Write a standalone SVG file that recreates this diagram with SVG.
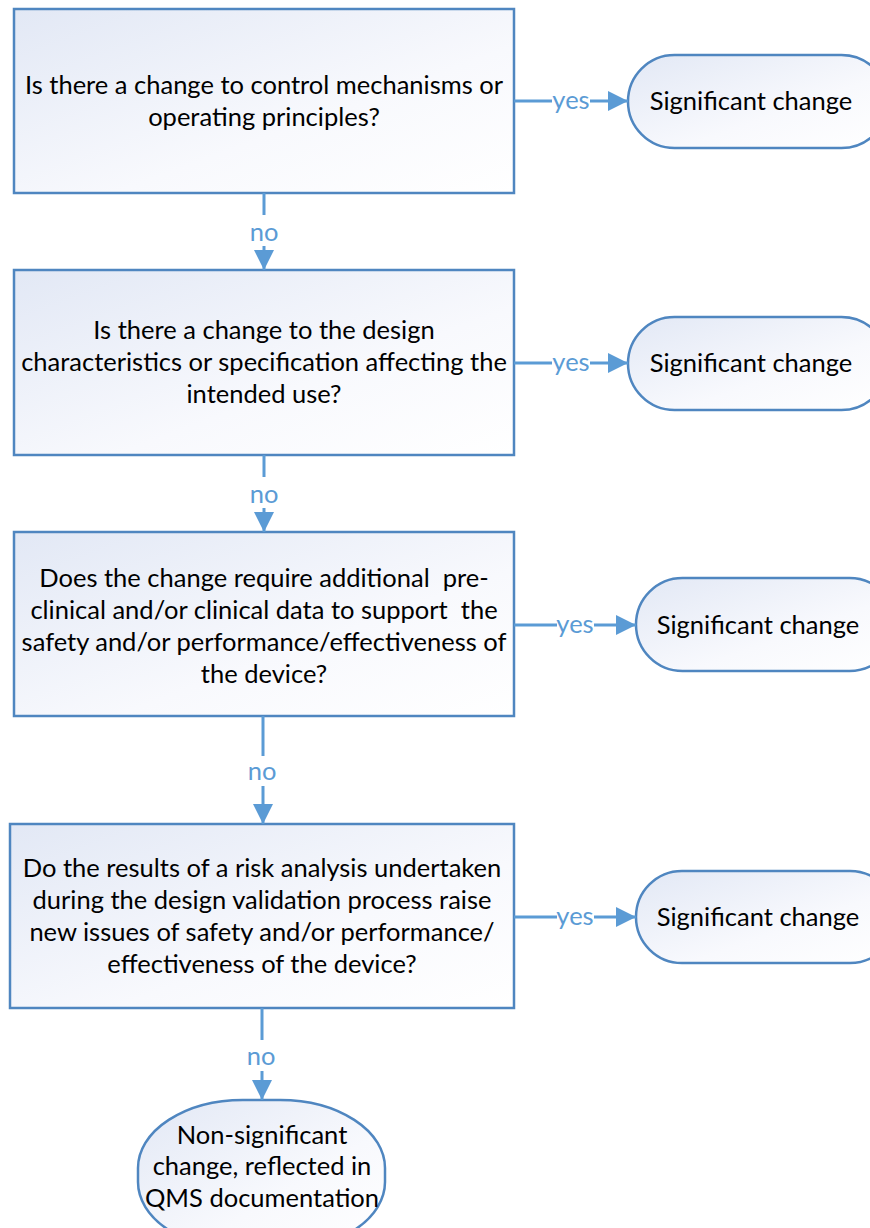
<svg xmlns="http://www.w3.org/2000/svg" width="870" height="1228" viewBox="0 0 870 1228">
  <defs>
    <linearGradient id="fillGrad" x1="0" y1="0" x2="1" y2="1">
      <stop offset="0" stop-color="#e2e8f5"/>
      <stop offset="0.6" stop-color="#f8f9fd"/>
      <stop offset="1" stop-color="#ffffff"/>
    </linearGradient>
    <marker id="arrow" viewBox="0 0 20 20" refX="20" refY="10" markerWidth="20" markerHeight="20" markerUnits="userSpaceOnUse" orient="auto">
      <path d="M0,0 L20,10 L0,20 Z" fill="#5b9bd5"/>
    </marker>
    <style>
      .box { fill: url(#fillGrad); stroke: #4f86c0; stroke-width: 2.5; }
      .txt { font-family: Lato, "Liberation Sans", sans-serif; font-size: 25.5px; fill: #000; text-anchor: middle; white-space: pre; }
      .lbl { font-family: Lato, "Liberation Sans", sans-serif; font-size: 25.5px; fill: #5b9bd5; text-anchor: middle; }
      .conn { stroke: #5b9bd5; stroke-width: 3; fill: none; }
    </style>
  </defs>
  <rect width="870" height="1228" fill="#ffffff"/>

  <!-- decision 1 -->
  <g id="q1">
    <rect class="box" x="14" y="9" width="500" height="184"/>
    <text class="txt" x="264" y="94">Is there a change to control mechanisms or</text>
    <text class="txt" x="264" y="126">operating principles?</text>
  </g>
  <g id="sig1">
    <rect class="box" x="628" y="55" width="260" height="93" rx="46.5" ry="46.5"/>
    <text class="txt" x="751" y="110">Significant change</text>
  </g>

  <!-- decision 2 -->
  <g id="q2">
    <rect class="box" x="14" y="270" width="500" height="185"/>
    <text class="txt" x="264" y="339">Is there a change to the design</text>
    <text class="txt" x="264" y="371">characteristics or specification affecting the</text>
    <text class="txt" x="264" y="403">intended use?</text>
  </g>
  <g id="sig2">
    <rect class="box" x="628" y="317" width="260" height="93" rx="46.5" ry="46.5"/>
    <text class="txt" x="751" y="372">Significant change</text>
  </g>

  <!-- decision 3 -->
  <g id="q3">
    <rect class="box" x="14" y="532" width="500" height="184"/>
    <text class="txt" x="264" y="587">Does the change require additional  pre-</text>
    <text class="txt" x="264" y="619">clinical and/or clinical data to support  the</text>
    <text class="txt" x="264" y="651">safety and/or performance/effectiveness of</text>
    <text class="txt" x="264" y="683">the device?</text>
  </g>
  <g id="sig3">
    <rect class="box" x="636" y="578" width="260" height="93" rx="46.5" ry="46.5"/>
    <text class="txt" x="758" y="634">Significant change</text>
  </g>

  <!-- decision 4 -->
  <g id="q4">
    <rect class="box" x="10" y="824" width="504" height="184"/>
    <text class="txt" x="262" y="877">Do the results of a risk analysis undertaken</text>
    <text class="txt" x="262" y="909">during the design validation process raise</text>
    <text class="txt" x="262" y="941">new issues of safety and/or performance/</text>
    <text class="txt" x="262" y="973">effectiveness of the device?</text>
  </g>
  <g id="sig4">
    <rect class="box" x="636" y="871" width="260" height="92" rx="46" ry="46"/>
    <text class="txt" x="758" y="926">Significant change</text>
  </g>

  <!-- final outcome -->
  <g id="nonsig">
    <rect class="box" x="138" y="1100" width="247" height="150" rx="105" ry="68"/>
    <text class="txt" x="262" y="1144">Non-significant</text>
    <text class="txt" x="262" y="1175">change, reflected in</text>
    <text class="txt" x="262" y="1207">QMS documentation</text>
  </g>

  <!-- connectors -->
  <g id="connectors">
    <!-- yes branches -->
    <line class="conn" x1="514" y1="101" x2="552" y2="101"/>
    <line class="conn" x1="590" y1="101" x2="628" y2="101" marker-end="url(#arrow)"/>
    <text class="lbl" x="571" y="109">yes</text>

    <line class="conn" x1="514" y1="363" x2="552" y2="363"/>
    <line class="conn" x1="590" y1="363" x2="628" y2="363" marker-end="url(#arrow)"/>
    <text class="lbl" x="571" y="371">yes</text>

    <line class="conn" x1="514" y1="625" x2="557" y2="625"/>
    <line class="conn" x1="594" y1="625" x2="636" y2="625" marker-end="url(#arrow)"/>
    <text class="lbl" x="575" y="633">yes</text>

    <line class="conn" x1="514" y1="917" x2="557" y2="917"/>
    <line class="conn" x1="594" y1="917" x2="636" y2="917" marker-end="url(#arrow)"/>
    <text class="lbl" x="575" y="925">yes</text>

    <!-- no branches -->
    <line class="conn" x1="264" y1="193" x2="264" y2="215"/>
    <line class="conn" x1="264" y1="246" x2="264" y2="270" marker-end="url(#arrow)"/>
    <text class="lbl" x="264" y="241">no</text>

    <line class="conn" x1="264" y1="455" x2="264" y2="477"/>
    <line class="conn" x1="264" y1="508" x2="264" y2="532" marker-end="url(#arrow)"/>
    <text class="lbl" x="264" y="503">no</text>

    <line class="conn" x1="263" y1="716" x2="263" y2="756"/>
    <line class="conn" x1="263" y1="786" x2="263" y2="824" marker-end="url(#arrow)"/>
    <text class="lbl" x="262" y="780">no</text>

    <line class="conn" x1="262" y1="1008" x2="262" y2="1040"/>
    <line class="conn" x1="262" y1="1071" x2="262" y2="1100" marker-end="url(#arrow)"/>
    <text class="lbl" x="261" y="1065">no</text>
  </g>
</svg>
